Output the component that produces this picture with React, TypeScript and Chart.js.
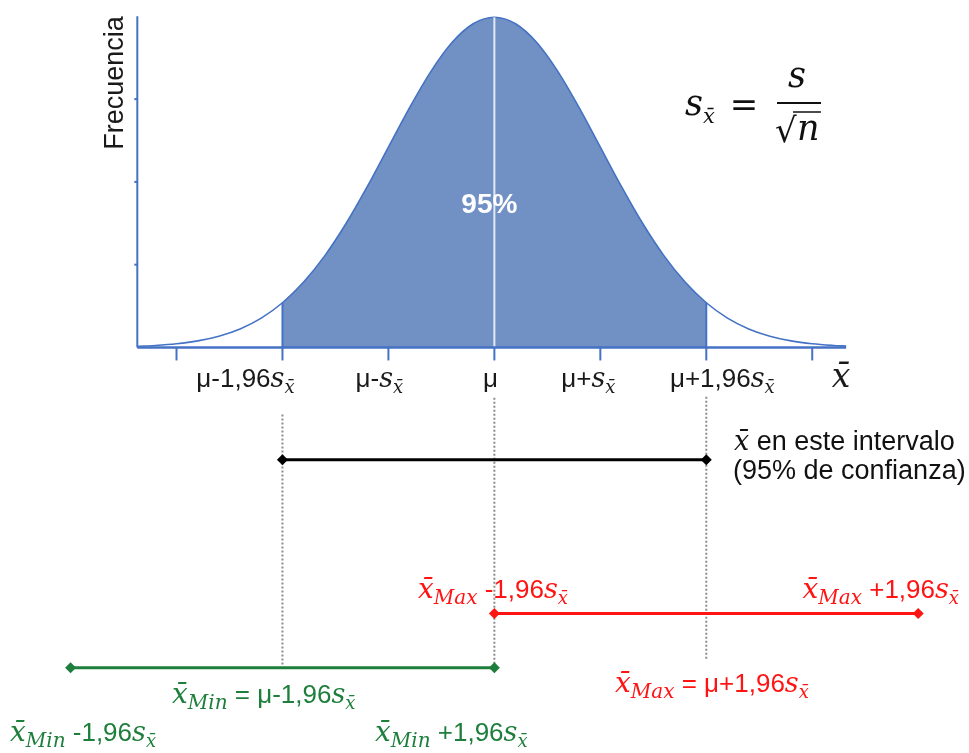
import React, { useEffect, useRef } from 'react';
import { Chart, registerables } from 'chart.js';

Chart.register(...registerables);

// ---------- data ----------
const curveX = [-3.37, -3.2, -3.0, -2.8, -2.6, -2.4, -2.2, -2.0, -1.8, -1.6, -1.4, -1.2, -1.0, -0.8, -0.6, -0.4, -0.2, 0,
  0.2, 0.4, 0.6, 0.8, 1.0, 1.2, 1.4, 1.6, 1.8, 2.0, 2.2, 2.4, 2.6, 2.8, 3.0, 3.2, 3.32];
const curveY = [0.0014, 0.0024, 0.0044, 0.0079, 0.0136, 0.0224, 0.0355, 0.054, 0.079, 0.1109, 0.1497, 0.1942, 0.242, 0.2897, 0.3332, 0.3683, 0.391, 0.3989,
  0.391, 0.3683, 0.3332, 0.2897, 0.242, 0.1942, 0.1497, 0.1109, 0.079, 0.054, 0.0355, 0.0224, 0.0136, 0.0079, 0.0044, 0.0024, 0.0016];
const muValue = 0;
const peakValue = 0.3989;
const ciLow = -2;
const ciHigh = 2;
const ciEdgeHeight = 0.054;
const axisStart = -3.37;
const axisEnd = 3.32;
const yAxisTop = 0.4;
const xTickValues = [-3, -2, -1, 0, 1, 2, 3];
const xTickLabels = ['', 'μ-1,96', 'μ-', 'μ', 'μ+', 'μ+1,96', ''];
const xTickHasS = [false, true, true, false, true, true, false];
const yTickValues = [0.1, 0.2, 0.3];

// intervals: confidence, x̄Max, x̄Min
const intervalLow = [-2, 0, -4];
const intervalHigh = [2, 4, 0];
const intervalLevel = [-0.1357, -0.3215, -0.387];
const intervalColors = ['#000000', '#FF1414', '#1E7F3C'];

// dotted guides
const guideX = [-2, 0, 2];
const guideTop = [-0.081, -0.0607, -0.0595];
const guideBottom = [-0.3845, -0.387, -0.3786];

// ---------- style ----------
const BLUE = '#4472C4';
const FILL = '#7190C3';
const SANS = "'Liberation Sans', Arial, sans-serif";
const MATH = "'DejaVu Serif', serif";
const XBAR = 'x\u0304';
const sans = (n: number, w = '') => `${w} ${n}px ${SANS}`.trim();
const mathI = (n: number) => `italic ${n}px ${MATH}`;

type Part = { t: string; f: string; dy?: number };

function drawRich(ctx: CanvasRenderingContext2D, parts: Part[], x: number, y: number, align: 'left' | 'center' | 'right', color: string) {
  ctx.save();
  ctx.fillStyle = color;
  ctx.textAlign = 'left';
  ctx.textBaseline = 'alphabetic';
  let w = 0;
  const ws = parts.map((p) => {
    ctx.font = p.f;
    const m = ctx.measureText(p.t).width;
    w += m;
    return m;
  });
  let cx = align === 'center' ? x - w / 2 : align === 'right' ? x - w : x;
  parts.forEach((p, i) => {
    ctx.font = p.f;
    ctx.fillText(p.t, cx, y + (p.dy || 0));
    cx += ws[i];
  });
  ctx.restore();
}

const sxParts = (size: number, sub: number): Part[] => [
  { t: 's', f: mathI(size) },
  { t: XBAR, f: mathI(sub), dy: 6 },
];

const decorPlugin = {
  id: 'decor',
  afterDatasetsDraw(chart: any) {
    const ctx: CanvasRenderingContext2D = chart.ctx;
    const xs = chart.scales.x;
    const ys = chart.scales.y;
    const X = (v: number) => xs.getPixelForValue(v);
    const Y = (v: number) => ys.getPixelForValue(v);

    // axes
    ctx.save();
    ctx.strokeStyle = BLUE;
    ctx.lineWidth = 2.5;
    ctx.beginPath();
    ctx.moveTo(X(axisStart), Y(0));
    ctx.lineTo(X(axisEnd), Y(0));
    ctx.stroke();
    ctx.lineWidth = 2;
    ctx.beginPath();
    ctx.moveTo(X(axisStart), Y(0));
    ctx.lineTo(X(axisStart), Y(yAxisTop));
    ctx.stroke();
    xTickValues.forEach((v) => {
      ctx.beginPath();
      ctx.moveTo(X(v), Y(0));
      ctx.lineTo(X(v), Y(0) + 13);
      ctx.stroke();
    });
    yTickValues.forEach((v) => {
      ctx.beginPath();
      ctx.moveTo(X(axisStart) - 3, Y(v));
      ctx.lineTo(X(axisStart), Y(v));
      ctx.stroke();
    });
    ctx.restore();

    // x tick labels
    const labelOffsets = [0, -37, -9, -4, -12, 16, 0];
    const base = Y(0) + 40;
    xTickValues.forEach((v, i) => {
      if (!xTickLabels[i]) return;
      const parts: Part[] = [{ t: xTickLabels[i], f: sans(26) }];
      if (xTickHasS[i]) parts.push(...sxParts(27, 18));
      drawRich(ctx, parts, X(v) + labelOffsets[i], base, 'center', '#1a1a1a');
    });
    drawRich(ctx, [{ t: XBAR, f: mathI(33) }], X(axisEnd) - 5, base, 'center', '#1a1a1a');

    // y axis title
    ctx.save();
    ctx.translate(X(axisStart) - 14, 83);
    ctx.rotate(-Math.PI / 2);
    ctx.font = sans(27);
    ctx.fillStyle = '#1a1a1a';
    ctx.textAlign = 'center';
    ctx.textBaseline = 'alphabetic';
    ctx.fillText('Frecuencia', 0, 0);
    ctx.restore();

    // 95%
    drawRich(ctx, [{ t: '95%', f: sans(28, 'bold') }], X(muValue) - 5, 213, 'center', '#ffffff');

    // formula s_x̄ = s/√n
    drawRich(ctx, [{ t: 's', f: mathI(35) }, { t: XBAR, f: mathI(21), dy: 8 }], 685, 115, 'left', '#111');
    drawRich(ctx, [{ t: '=', f: `34px ${MATH}` }], 744, 116, 'center', '#111');
    drawRich(ctx, [{ t: 's', f: mathI(35) }], 797, 87, 'center', '#111');
    ctx.save();
    ctx.strokeStyle = '#111';
    ctx.lineWidth = 2;
    ctx.beginPath();
    ctx.moveTo(777, 103);
    ctx.lineTo(821, 103);
    ctx.stroke();
    ctx.restore();
    drawRich(ctx, [{ t: '√', f: `34px ${MATH}` }], 775, 142, 'left', '#111');
    drawRich(ctx, [{ t: 'n', f: mathI(35) }], 797, 140, 'left', '#111');
    ctx.save();
    ctx.strokeStyle = '#111';
    ctx.lineWidth = 1.5;
    ctx.beginPath();
    ctx.moveTo(793, 112);
    ctx.lineTo(821, 112);
    ctx.stroke();
    ctx.restore();

    // confidence annotation
    drawRich(ctx, [{ t: XBAR, f: mathI(27) }, { t: ' en este intervalo', f: sans(27) }], 734, 450, 'left', '#111');
    drawRich(ctx, [{ t: '(95% de confianza)', f: sans(27) }], 733, 479, 'left', '#111');

    const red = intervalColors[1];
    const green = intervalColors[2];
    const xb = (name: string): Part[] => [
      { t: XBAR, f: mathI(28) },
      { t: name, f: mathI(20), dy: 6 },
    ];
    const tail = (txt: string): Part[] => [{ t: txt, f: sans(26) }, ...sxParts(27, 18)];
    drawRich(ctx, [...xb('Max'), ...tail(' -1,96')], 418, 598, 'left', red);
    drawRich(ctx, [...xb('Max'), ...tail(' +1,96')], 959, 598, 'right', red);
    drawRich(ctx, [...xb('Max'), ...tail(' = μ+1,96')], 615, 692, 'left', red);
    drawRich(ctx, [...xb('Min'), ...tail(' = μ-1,96')], 172, 703, 'left', green);
    drawRich(ctx, [...xb('Min'), ...tail(' -1,96')], 10, 741, 'left', green);
    drawRich(ctx, [...xb('Min'), ...tail(' +1,96')], 375, 741, 'left', green);
  },
};

export default function App() {
  const ref = useRef<HTMLCanvasElement>(null);
  useEffect(() => {
    const pts = curveX.map((x, i) => ({ x, y: curveY[i] }));
    const shaded = pts.filter((p) => p.x >= ciLow && p.x <= ciHigh);
    const datasets: any[] = [];

    intervalLow.forEach((lo, i) => {
      datasets.push({
        data: [{ x: lo, y: intervalLevel[i] }, { x: intervalHigh[i], y: intervalLevel[i] }],
        borderColor: intervalColors[i],
        backgroundColor: intervalColors[i],
        borderWidth: 3,
        pointStyle: 'rectRot',
        pointRadius: 5.5,
        pointBorderWidth: 0,
        pointBackgroundColor: intervalColors[i],
        fill: false,
      });
    });
    guideX.forEach((gx, i) => {
      datasets.push({
        data: [{ x: gx, y: guideTop[i] }, { x: gx, y: guideBottom[i] }],
        borderColor: '#8c8c8c',
        borderWidth: 2,
        borderDash: [2, 2],
        pointRadius: 0,
        fill: false,
      });
    });
    datasets.push({
      data: [{ x: muValue, y: 0 }, { x: muValue, y: peakValue }],
      borderColor: 'rgba(232,238,248,0.95)',
      borderWidth: 2,
      pointRadius: 0,
      fill: false,
    });
    [ciLow, ciHigh].forEach((cx) => {
      datasets.push({
        data: [{ x: cx, y: 0 }, { x: cx, y: ciEdgeHeight }],
        borderColor: BLUE,
        borderWidth: 2,
        pointRadius: 0,
        fill: false,
      });
    });
    datasets.push({
      data: pts,
      borderColor: BLUE,
      borderWidth: 1.6,
      pointRadius: 0,
      cubicInterpolationMode: 'monotone',
      fill: false,
    });
    datasets.push({
      data: shaded,
      borderColor: FILL,
      borderWidth: 0,
      backgroundColor: FILL,
      pointRadius: 0,
      cubicInterpolationMode: 'monotone',
      fill: 'origin',
    });

    const chart = new Chart(ref.current as HTMLCanvasElement, {
      type: 'line',
      data: { datasets },
      options: {
        animation: false,
        responsive: false,
        devicePixelRatio: 1,
        events: [],
        layout: { padding: 0 },
        plugins: { legend: { display: false }, tooltip: { enabled: false } },
        scales: {
          x: { type: 'linear', display: false, min: -4.614, max: 4.4276 },
          y: { type: 'linear', display: false, min: -0.4833, max: 0.4131 },
        },
      } as any,
      plugins: [decorPlugin],
    });
    return () => chart.destroy();
  }, []);
  return (
    <div style={{ position: 'fixed', left: 0, top: 0, width: 969, height: 753, background: '#ffffff' }}>
      <canvas ref={ref} width={969} height={753} style={{ display: 'block' }} />
    </div>
  );
}
